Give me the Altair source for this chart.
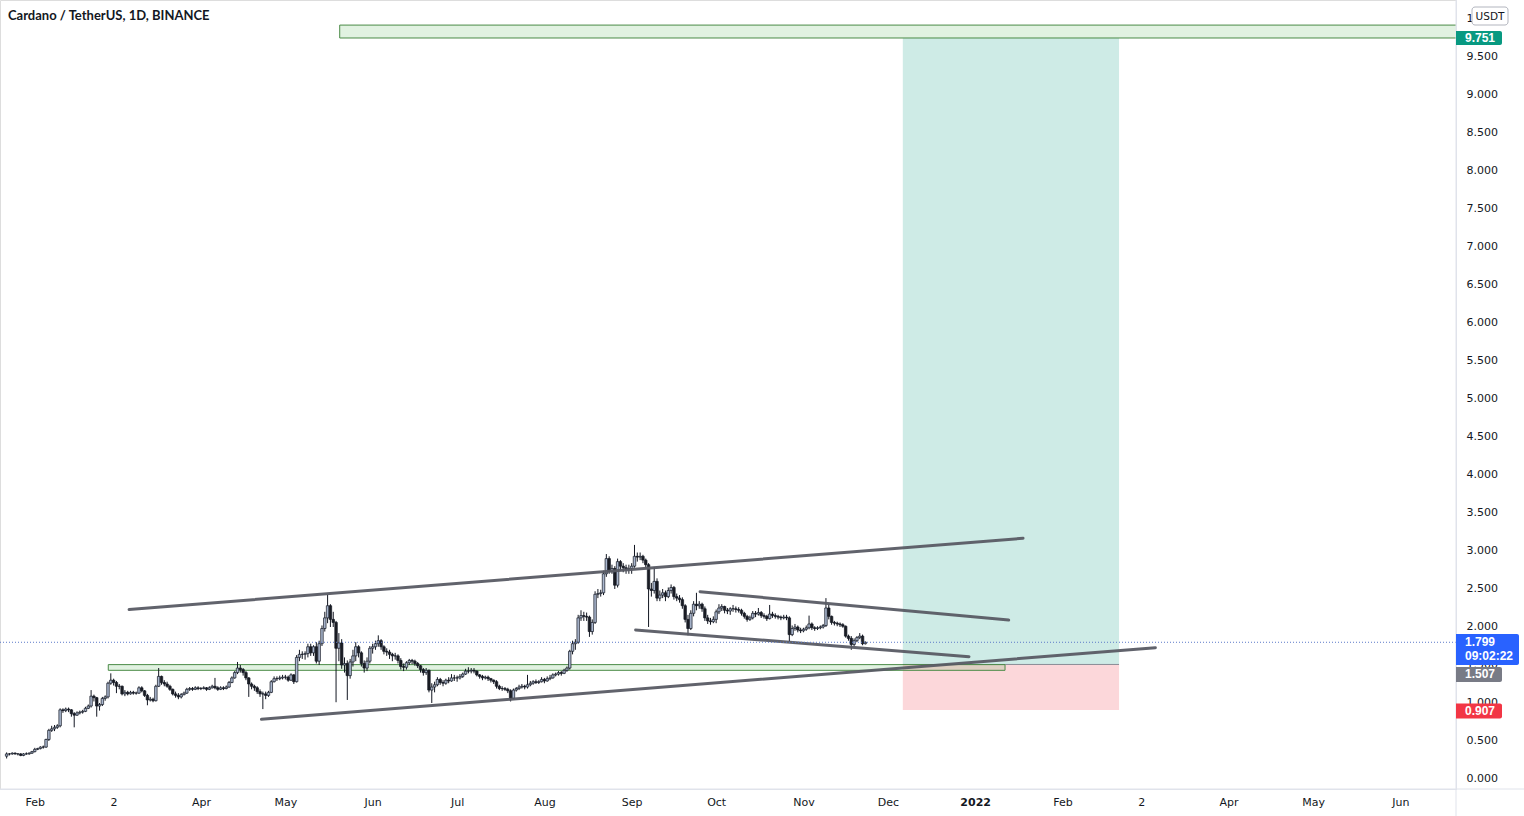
import altair as alt
import pandas as pd

# ---------------------------------------------------------------- data
# day index d = days counted from 1 Feb 2021 (first candle: 22 Jan 2021)
FIRST_DAY = -10
FIRST_OPEN = 0.30

closes = [
    # Jan 22-31
    0.33, 0.33, 0.34, 0.33, 0.33, 0.31, 0.33, 0.33, 0.34, 0.36,
    # Feb
    0.39, 0.40, 0.42, 0.42, 0.52, 0.64, 0.66, 0.68, 0.70, 0.91,
    0.90, 0.92, 0.91, 0.86, 0.84, 0.87, 0.88, 0.89, 0.93, 0.96,
    1.09, 1.07, 0.96, 0.98, 1.06, 1.08, 1.26, 1.30,
    # Mar
    1.27, 1.22, 1.22, 1.12, 1.14, 1.12, 1.14, 1.13, 1.13, 1.20,
    1.16, 1.10, 1.04, 1.05, 1.03, 1.22, 1.35, 1.27, 1.25, 1.22,
    1.18, 1.12, 1.10, 1.08, 1.11, 1.13, 1.18, 1.19, 1.18, 1.20, 1.19,
    # Apr
    1.19, 1.20, 1.18, 1.20, 1.22, 1.20, 1.18, 1.20, 1.19, 1.21,
    1.27, 1.33, 1.40, 1.46, 1.44, 1.40, 1.33, 1.25, 1.22, 1.20,
    1.15, 1.12, 1.12, 1.10, 1.14, 1.28, 1.32, 1.32, 1.33, 1.34,
    # May
    1.34, 1.30, 1.37, 1.28, 1.60, 1.64, 1.64, 1.65, 1.74, 1.66,
    1.74, 1.55, 1.78, 1.98, 2.12, 2.28, 2.10, 2.06, 1.72, 1.79,
    1.50, 1.52, 1.36, 1.54, 1.62, 1.74, 1.66, 1.52, 1.46, 1.55, 1.72,
    # Jun
    1.74, 1.78, 1.82, 1.74, 1.68, 1.67, 1.64, 1.62, 1.62, 1.56,
    1.48, 1.47, 1.53, 1.56, 1.55, 1.52, 1.49, 1.44, 1.40, 1.43,
    1.17, 1.21, 1.24, 1.31, 1.27, 1.26, 1.30, 1.29, 1.33, 1.33,
    # Jul
    1.33, 1.35, 1.38, 1.42, 1.42, 1.43, 1.42, 1.37, 1.35, 1.33,
    1.34, 1.32, 1.30, 1.28, 1.22, 1.19, 1.19, 1.18, 1.16, 1.06,
    1.17, 1.19, 1.21, 1.22, 1.21, 1.24, 1.26, 1.28, 1.27, 1.28, 1.31,
    # Aug
    1.29, 1.32, 1.33, 1.37, 1.38, 1.40, 1.39, 1.43, 1.46, 1.68,
    1.78, 1.80, 2.12, 2.15, 2.14, 2.13, 1.94, 2.06, 2.43, 2.44,
    2.45, 2.70, 2.90, 2.73, 2.77, 2.55, 2.86, 2.80, 2.78, 2.76, 2.77,
    # Sep
    2.80, 2.93, 2.92, 2.93, 2.88, 2.82, 2.50, 2.48, 2.60, 2.38,
    2.42, 2.45, 2.40, 2.48, 2.52, 2.40, 2.38, 2.36, 2.28, 2.10,
    1.98, 2.18, 2.30, 2.28, 2.30, 2.24, 2.12, 2.08, 2.07, 2.10,
    # Oct
    2.20, 2.25, 2.27, 2.22, 2.21, 2.24, 2.24, 2.23, 2.22, 2.18,
    2.14, 2.10, 2.12, 2.18, 2.17, 2.19, 2.15, 2.14, 2.11, 2.17,
    2.15, 2.14, 2.13, 2.12, 2.13, 2.12, 1.90, 1.98, 2.00, 1.96, 1.95,
    # Nov 1-23
    1.97, 1.99, 2.04, 1.99, 1.98, 1.99, 2.00, 2.02, 2.25, 2.14,
    2.06, 2.05, 2.04, 2.03, 2.01, 1.88, 1.85, 1.77, 1.82, 1.86,
    1.88, 1.78, 1.799,
]

highs = [
    # Jan 22-31
    0.35, 0.34, 0.35, 0.35, 0.34, 0.34, 0.34, 0.35, 0.35, 0.37,
    # Feb
    0.41, 0.41, 0.43, 0.44, 0.53, 0.66, 0.70, 0.71, 0.72, 0.93,
    0.93, 0.94, 0.94, 0.92, 0.88, 0.89, 0.90, 0.91, 0.95, 0.98,
    1.17, 1.11, 1.08, 1.00, 1.08, 1.10, 1.28, 1.39,
    # Mar
    1.32, 1.29, 1.25, 1.23, 1.17, 1.16, 1.16, 1.16, 1.15, 1.22,
    1.22, 1.17, 1.12, 1.08, 1.07, 1.24, 1.46, 1.36, 1.30, 1.28,
    1.24, 1.19, 1.15, 1.13, 1.13, 1.15, 1.20, 1.21, 1.21, 1.22, 1.22,
    # Apr
    1.21, 1.22, 1.21, 1.22, 1.24, 1.33, 1.22, 1.22, 1.22, 1.23,
    1.29, 1.35, 1.42, 1.54, 1.50, 1.46, 1.42, 1.34, 1.27, 1.24,
    1.22, 1.18, 1.15, 1.15, 1.16, 1.30, 1.35, 1.35, 1.36, 1.37,
    # May
    1.37, 1.36, 1.39, 1.38, 1.63, 1.70, 1.68, 1.68, 1.78, 1.78,
    1.76, 1.80, 1.82, 2.02, 2.20, 2.43, 2.30, 2.20, 2.08, 1.92,
    1.84, 1.60, 1.56, 1.58, 1.70, 1.80, 1.76, 1.68, 1.56, 1.60, 1.75,
    # Jun
    1.78, 1.82, 1.89, 1.84, 1.76, 1.72, 1.70, 1.66, 1.66, 1.64,
    1.59, 1.52, 1.55, 1.58, 1.58, 1.57, 1.54, 1.50, 1.46, 1.46,
    1.44, 1.26, 1.28, 1.34, 1.33, 1.30, 1.32, 1.34, 1.38, 1.37,
    # Jul
    1.36, 1.38, 1.40, 1.45, 1.47, 1.46, 1.46, 1.43, 1.38, 1.37,
    1.36, 1.36, 1.33, 1.31, 1.30, 1.24, 1.22, 1.21, 1.20, 1.18,
    1.19, 1.21, 1.24, 1.25, 1.24, 1.37, 1.29, 1.30, 1.31, 1.30, 1.34,
    # Aug
    1.33, 1.35, 1.37, 1.39, 1.40, 1.42, 1.42, 1.45, 1.48, 1.70,
    1.82, 1.84, 2.16, 2.22, 2.20, 2.19, 2.15, 2.10, 2.47, 2.50,
    2.49, 2.74, 2.96, 2.93, 2.82, 2.80, 2.90, 2.88, 2.84, 2.82, 2.82,
    # Sep
    2.84, 3.08, 2.98, 2.98, 2.95, 2.90, 2.84, 2.58, 2.79, 2.64,
    2.48, 2.50, 2.48, 2.52, 2.56, 2.54, 2.44, 2.42, 2.39, 2.30,
    2.16, 2.22, 2.34, 2.45, 2.34, 2.32, 2.27, 2.16, 2.12, 2.14,
    # Oct
    2.23, 2.30, 2.30, 2.28, 2.25, 2.26, 2.29, 2.27, 2.26, 2.24,
    2.20, 2.16, 2.15, 2.21, 2.21, 2.25, 2.21, 2.18, 2.16, 2.29,
    2.20, 2.18, 2.16, 2.15, 2.16, 2.16, 2.14, 2.02, 2.04, 2.02, 1.99,
    # Nov 1-23
    1.99, 2.02, 2.15, 2.06, 2.01, 2.01, 2.02, 2.04, 2.38, 2.30,
    2.15, 2.08, 2.07, 2.06, 2.05, 2.02, 1.90, 1.88, 1.85, 1.88,
    1.92, 1.90, 1.81,
]

lows = [
    # Jan 22-31
    0.27, 0.31, 0.32, 0.32, 0.31, 0.30, 0.30, 0.32, 0.32, 0.33,
    # Feb
    0.35, 0.38, 0.39, 0.40, 0.41, 0.50, 0.62, 0.63, 0.66, 0.68,
    0.87, 0.88, 0.88, 0.82, 0.68, 0.83, 0.85, 0.86, 0.88, 0.92,
    0.94, 1.02, 0.82, 0.90, 0.96, 1.03, 1.06, 1.24,
    # Mar
    1.23, 1.13, 1.18, 1.10, 1.09, 1.10, 1.11, 1.11, 1.11, 1.12,
    1.14, 1.08, 0.97, 1.02, 1.01, 1.02, 1.21, 1.24, 1.22, 1.20,
    1.16, 1.10, 1.07, 1.05, 1.06, 1.10, 1.12, 1.16, 1.16, 1.17, 1.17,
    # Apr
    1.17, 1.18, 1.16, 1.17, 1.19, 1.18, 1.16, 1.17, 1.17, 1.18,
    1.20, 1.26, 1.32, 1.38, 1.40, 1.36, 1.30, 1.08, 1.18, 1.16,
    1.12, 1.08, 0.92, 1.05, 1.08, 1.13, 1.27, 1.29, 1.30, 1.31,
    # May
    1.31, 1.28, 1.29, 1.25, 1.27, 1.55, 1.58, 1.57, 1.60, 1.62,
    1.62, 1.52, 1.50, 1.75, 1.94, 2.05, 2.00, 2.00, 1.01, 1.55,
    1.45, 1.40, 1.04, 1.32, 1.48, 1.55, 1.60, 1.48, 1.40, 1.42, 1.52,
    # Jun
    1.65, 1.70, 1.74, 1.70, 1.64, 1.62, 1.58, 1.55, 1.57, 1.52,
    1.44, 1.42, 1.44, 1.50, 1.51, 1.49, 1.46, 1.40, 1.36, 1.37,
    1.14, 1.00, 1.14, 1.22, 1.24, 1.22, 1.24, 1.26, 1.28, 1.29,
    # Jul
    1.28, 1.31, 1.33, 1.37, 1.39, 1.39, 1.39, 1.35, 1.32, 1.30,
    1.31, 1.29, 1.27, 1.25, 1.19, 1.17, 1.16, 1.16, 1.13, 1.02,
    1.05, 1.15, 1.17, 1.19, 1.18, 1.19, 1.22, 1.24, 1.25, 1.25, 1.27,
    # Aug
    1.26, 1.28, 1.30, 1.32, 1.35, 1.36, 1.36, 1.38, 1.41, 1.44,
    1.64, 1.70, 1.78, 2.08, 2.08, 2.08, 1.87, 1.90, 2.04, 2.38,
    2.40, 2.42, 2.66, 2.70, 2.70, 2.50, 2.52, 2.74, 2.72, 2.70, 2.70,
    # Sep
    2.70, 2.78, 2.86, 2.88, 2.84, 2.78, 2.00, 2.40, 2.44, 2.34,
    2.34, 2.38, 2.34, 2.38, 2.44, 2.36, 2.34, 2.32, 2.24, 2.06,
    1.89, 1.96, 2.14, 2.22, 2.24, 2.20, 2.08, 2.04, 2.03, 2.05,
    # Oct
    2.05, 2.17, 2.21, 2.18, 2.17, 2.16, 2.20, 2.19, 2.19, 2.15,
    2.11, 2.07, 2.08, 2.10, 2.13, 2.15, 2.12, 2.11, 2.08, 2.10,
    2.12, 2.11, 2.10, 2.09, 2.10, 2.09, 1.80, 1.88, 1.95, 1.93, 1.92,
    # Nov 1-23
    1.93, 1.95, 1.97, 1.96, 1.95, 1.96, 1.97, 1.98, 2.00, 2.10,
    2.03, 2.02, 2.01, 2.00, 1.99, 1.86, 1.82, 1.70, 1.75, 1.80,
    1.84, 1.76, 1.77,
]

# x-axis ticks (day index of each month start) and their labels
month_ticks = [0, 28, 59, 89, 120, 150, 181, 212, 242, 273, 303, 334,
               365, 393, 424, 454, 485]
month_labels = ["Feb", "2", "Apr", "May", "Jun", "Jul", "Aug", "Sep", "Oct",
                "Nov", "Dec", "2022", "Feb", "2", "Apr", "May", "Jun"]
YEAR_TICK = 334
price_ticks = [0.0, 0.5, 1.0, 1.5, 2.0, 2.5, 3.0, 3.5, 4.0, 4.5, 5.0, 5.5,
               6.0, 6.5, 7.0, 7.5, 8.0, 8.5, 9.0, 9.5, 10.0]

# drawings: trend lines (start day, start price, end day, end price)
line_d0 = [33.5, 80.5, 236.3, 213.4]
line_p0 = [2.230, 0.786, 2.464, 1.961]
line_d1 = [351.0, 398.0, 345.9, 331.8]
line_p1 = [3.168, 1.728, 2.092, 1.609]

# long position tool
pos_d0, pos_d1 = 308.3, 385.1
entry_price, target_price, stop_price = 1.507, 9.751, 0.907
# support zone and target zone rectangles (the target zone runs off the right edge)
zone_d0, zone_d1, zone_top, zone_bottom = 26.1, 344.6, 1.505, 1.43
top_zone_d0, top_zone_d1, top_zone_top, top_zone_bottom = 108.3, 520.0, 9.92, 9.75

last_price = 1.799
countdown = "09:02:22"

TITLE = "Cardano / TetherUS, 1D, BINANCE"

# ---------------------------------------------------------------- layout
W, H = 1456, 789
X_MIN, X_MAX = -10.58, 503.0
Y_MIN, Y_MAX = -0.1316, 10.25
PX_PER_UNIT = H / (Y_MAX - Y_MIN)

FONT = "DejaVu Sans"
TAG_FONT = "Liberation Sans"
TXT = "#131722"
UP_FILL = "#aab7ce"
DOWN_FILL = "#1b1d24"
LINE_COL = "#585b64"

assert len(closes) == len(highs) == len(lows)
n = len(closes)
opens = [FIRST_OPEN] + closes[:-1]
candles = pd.DataFrame({
    "d": [FIRST_DAY + i for i in range(n)],
    "o": opens,
    "c": closes,
    "h": [max(h, o, c) for h, o, c in zip(highs, opens, closes)],
    "l": [min(l, o, c) for l, o, c in zip(lows, opens, closes)],
})

XS = alt.Scale(domain=[X_MIN, X_MAX], nice=False, zero=False)
YS = alt.Scale(domain=[Y_MIN, Y_MAX], nice=False, zero=False)

labels_js = "[" + ",".join("'%s'" % s for s in month_labels) + "]"
ticks_js = "[" + ",".join(str(t) for t in month_ticks) + "]"

xaxis = alt.Axis(
    values=month_ticks,
    labelExpr=f"{labels_js}[indexof({ticks_js}, datum.value)]",
    grid=False, ticks=False, tickSize=0, domainColor="#e0e3eb",
    labelColor=TXT, labelFont=FONT, labelFontSize=11, labelPadding=7,
    labelFontWeight={"condition": {"test": f"datum.value == {YEAR_TICK}", "value": "bold"},
                     "value": "normal"},
    labelOverlap=False, labelFlush=False, title=None,
)
yaxis = alt.Axis(
    orient="right", values=price_ticks, format=".3f",
    grid=False, ticks=False, tickSize=0, domainColor="#e0e3eb",
    labelColor=TXT, labelFont=FONT, labelFontSize=11, labelPadding=10,
    labelOverlap=False, labelFlush=False, title=None,
)


def X(f):
    return alt.X(f, type="quantitative", scale=XS, axis=xaxis)


def Y(f):
    return alt.Y(f, type="quantitative", scale=YS, axis=yaxis)


# position tool regions
regions = pd.DataFrame({
    "d0": [pos_d0, pos_d0], "d1": [pos_d1, pos_d1],
    "p0": [entry_price, stop_price], "p1": [target_price, entry_price],
    "col": ["#089981", "#f23645"],
})
region_layer = alt.Chart(regions).mark_rect(opacity=0.2).encode(
    x=X("d0"), x2="d1", y=Y("p0"), y2="p1",
    fill=alt.Fill("col:N", scale=None))
entry_layer = alt.Chart(pd.DataFrame({"d0": [pos_d0], "d1": [pos_d1], "p": [entry_price]})
                        ).mark_rule(color="#8a8d96", strokeWidth=1).encode(
    x=X("d0"), x2="d1", y=Y("p"))

zones = pd.DataFrame({
    "d0": [zone_d0, top_zone_d0], "d1": [zone_d1, top_zone_d1],
    "p0": [zone_bottom, top_zone_bottom], "p1": [zone_top, top_zone_top],
})
zone_layer = alt.Chart(zones).mark_rect(
    fill="#4caf50", fillOpacity=0.17, stroke="#4b8b47", strokeWidth=1, clip=True).encode(
    x=X("d0"), x2="d1", y=Y("p0"), y2="p1")

# candles
wick_layer = alt.Chart(candles).mark_rule(color="#131722", strokeWidth=1).encode(
    x=X("d"), y=Y("l"), y2="h")
body_layer = alt.Chart(candles).mark_bar(size=2.5, stroke="#131722", strokeWidth=0.7).encode(
    x=X("d"), y=Y("o"), y2="c",
    fill=alt.condition("datum.c >= datum.o", alt.value(UP_FILL), alt.value(DOWN_FILL)))

# trend lines
rows = []
for i in range(len(line_d0)):
    rows.append({"id": i, "d": line_d0[i], "p": line_p0[i]})
    rows.append({"id": i, "d": line_d1[i], "p": line_p1[i]})
trend_layer = alt.Chart(pd.DataFrame(rows)).mark_line(
    color=LINE_COL, strokeWidth=3, strokeCap="round", opacity=0.95).encode(
    x=X("d"), y=Y("p"), detail="id:N")

# last price dotted line
price_line = alt.Chart(pd.DataFrame({"p": [last_price]})).mark_rule(
    color="#5b79c9", strokeDash=[1, 2], strokeWidth=1).encode(y=Y("p"))

# price tags on the right scale (offsets in px: top above / bottom below price)
tag_prices = [target_price, entry_price, stop_price]
tag_colors = ["#089981", "#787b86", "#f23645"]
tag_top_px = [7.0, -2.5, 6.5]
tag_bot_px = [7.0, 17.5, 8.5]
tags = pd.DataFrame({
    "hi": [p + t / PX_PER_UNIT for p, t in zip(tag_prices, tag_top_px)],
    "lo": [p - b / PX_PER_UNIT for p, b in zip(tag_prices, tag_bot_px)],
    "col": tag_colors,
    "label": ["%.3f" % p for p in tag_prices],
})
tags["ty"] = (tags["hi"] + tags["lo"]) / 2
tag_rect = alt.Chart(tags).mark_rect(cornerRadiusTopRight=2, cornerRadiusBottomRight=2).encode(
    x=alt.value(W), x2=alt.value(W + 46), y=Y("hi"), y2="lo",
    fill=alt.Fill("col:N", scale=None))
tag_text = alt.Chart(tags).mark_text(
    align="left", baseline="middle", font=TAG_FONT, fontSize=12, fontWeight="bold",
    color="white").encode(x=alt.value(W + 9), y=Y("ty"), text="label:N")

last_tag = pd.DataFrame({
    "hi": [last_price + 8.3 / PX_PER_UNIT], "lo": [last_price - 22.7 / PX_PER_UNIT],
    "p": [last_price], "p2": [last_price - 14.0 / PX_PER_UNIT],
    "label": ["%.3f" % last_price], "cd": [countdown],
})
last_rect = alt.Chart(last_tag).mark_rect(
    fill="#2962ff", cornerRadiusTopRight=2, cornerRadiusBottomRight=2).encode(
    x=alt.value(W), x2=alt.value(W + 63), y=Y("hi"), y2="lo")
last_text1 = alt.Chart(last_tag).mark_text(
    align="left", baseline="middle", font=TAG_FONT, fontSize=12, fontWeight="bold",
    color="white").encode(x=alt.value(W + 9), y=Y("p"), text="label:N")
last_text2 = alt.Chart(last_tag).mark_text(
    align="left", baseline="middle", font=TAG_FONT, fontSize=12, fontWeight="bold",
    color="white").encode(x=alt.value(W + 9), y=Y("p2"), text="cd:N")

# chrome: currency box, separators, title
one = pd.DataFrame({"t": ["USDT"]})
usdt_box = alt.Chart(one).mark_rect(
    fill="white", stroke="#b2b5be", strokeWidth=1, cornerRadius=3).encode(
    x=alt.value(1472), x2=alt.value(1508), y=alt.value(7), y2=alt.value(25))
usdt_text = alt.Chart(one).mark_text(
    align="center", baseline="middle", font=FONT, fontSize=10.5, color=TXT).encode(
    x=alt.value(1490), y=alt.value(16.5), text="t:N")
vsep = alt.Chart(one).mark_rule(color="#e0e3eb").encode(
    x=alt.value(W), y=alt.value(0), y2=alt.value(816))
hsep = alt.Chart(one).mark_rule(color="#e0e3eb").encode(
    x=alt.value(0), x2=alt.value(1524), y=alt.value(H))
title = alt.Chart(pd.DataFrame({"t": [TITLE]})).mark_text(
    align="left", baseline="middle", font="Lato", fontSize=13, fontWeight="bold",
    color=TXT).encode(x=alt.value(8), y=alt.value(16), text="t:N")

chart = alt.layer(
    region_layer, entry_layer, zone_layer, wick_layer, body_layer, trend_layer,
    price_line, vsep, hsep, tag_rect, tag_text, last_rect, last_text1, last_text2,
    usdt_box, usdt_text, title,
).properties(
    width=W, height=H, autosize="none",
    padding={"left": 0, "top": 0, "right": 1524 - W, "bottom": 816 - H},
).configure_view(strokeWidth=0).configure(background="white")

chart.save("out.html", embed_options={"renderer": "svg", "actions": False})
